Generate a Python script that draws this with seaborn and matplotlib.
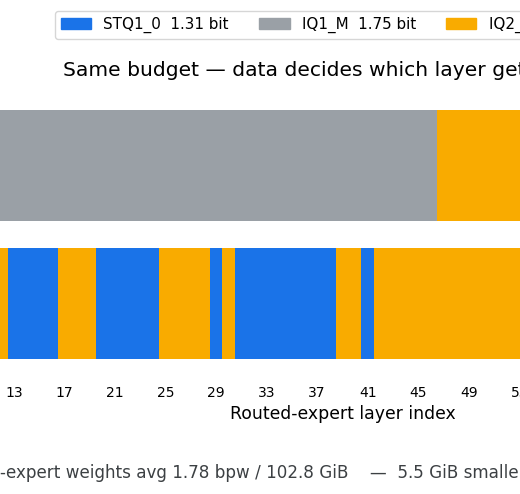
import numpy as np
import pandas as pd
import matplotlib
matplotlib.use("Agg")
import matplotlib.pyplot as plt
import seaborn as sns
from matplotlib.patches import Patch

# quant types and their legend text
quant_names = ["STQ1_0", "IQ1_M", "IQ2_XXS"]
quant_bits = ["1.31 bit", "1.75 bit", "2.06 bit"]
quant_colors = ["#1a73e8", "#9aa0a6", "#f9ab00"]

row_names = ["uniform IQ1_M", "data-driven"]

# row 0: uniform recipe (runs of layers)
uniform_first = [12, 47]
uniform_last = [46, 53]
uniform_quant = ["IQ1_M", "IQ2_XXS"]

# row 1: data-driven recipe
driven_first = [12, 13, 17, 20, 25, 29, 30, 31, 39, 41, 42]
driven_last = [12, 16, 19, 24, 28, 29, 30, 38, 40, 41, 53]
driven_quant = ["IQ2_XXS", "STQ1_0", "IQ2_XXS", "STQ1_0", "IQ2_XXS", "STQ1_0",
                "IQ2_XXS", "STQ1_0", "IQ2_XXS", "STQ1_0", "IQ2_XXS"]

tick_layers = [13, 17, 21, 25, 29, 33, 37, 41, 45, 49, 53]

title = "Same budget \u2014 data decides which layer gets the bits"
footer = ("Routed-expert weights avg 1.78 bpw / 102.8 GiB    \u2014  "
          "5.5 GiB smaller than uniform IQ1_M")

runs = pd.concat([
    pd.DataFrame({"row": row_names[0], "first": uniform_first, "last": uniform_last, "quant": uniform_quant}),
    pd.DataFrame({"row": row_names[1], "first": driven_first, "last": driven_last, "quant": driven_quant}),
])
palette = dict(zip(quant_names, sns.color_palette(quant_colors)))
row_pos = {n: i for i, n in enumerate(row_names)}

W, H = 520, 494
fig = plt.figure(figsize=(W / 100, H / 100), dpi=100)
# axes is wider than the canvas (cropped view)
ax_left, ax_right, ax_top, ax_bot = -156.5, 841.3, 96.5, 372.5
ax = fig.add_axes([ax_left / W, 1 - ax_bot / H, (ax_right - ax_left) / W, (ax_bot - ax_top) / H])

for _, r in runs.iterrows():
    ax.barh(row_pos[r["row"]], r["last"] - r["first"] + 1, left=r["first"] - 0.5, height=0.8,
            color=palette[r["quant"]], linewidth=0)

ax.set_xlim(-0.5, 78.5)
ax.set_ylim(1.5, -0.5)
ax.set_yticks([])
ax.set_xticks(tick_layers)
ax.set_xticklabels([str(t) for t in tick_layers], fontsize=10)
ax.tick_params(axis="both", length=0)
ax.tick_params(axis="x", pad=9.4)
ax.set_xlabel("Routed-expert layer index", fontsize=12.4)
sns.despine(ax=ax, left=True, bottom=True)

handles = [Patch(color=c) for c in quant_colors]
labels = [f"{n}  {b}" for n, b in zip(quant_names, quant_bits)]
fig.legend(handles, labels, ncol=3, loc="upper left", fontsize=10.9,
           bbox_to_anchor=(55 / W, 1 - 11 / H), borderaxespad=0)

fig.text(63 / W, 1 - 76 / H, title, fontsize=14.55, va="baseline")

# footer starts off-canvas so that "-expert" begins at the left edge
foot_size = 12.05
renderer = fig.canvas.get_renderer()
tmp = fig.text(0, 0, "Routed", fontsize=foot_size)
w = tmp.get_window_extent(renderer).width
tmp.remove()
fig.text(-w / W, 1 - 477.7 / H, footer, fontsize=foot_size, color="#3c4043", va="baseline")

fig.savefig("out.png", dpi=100)
